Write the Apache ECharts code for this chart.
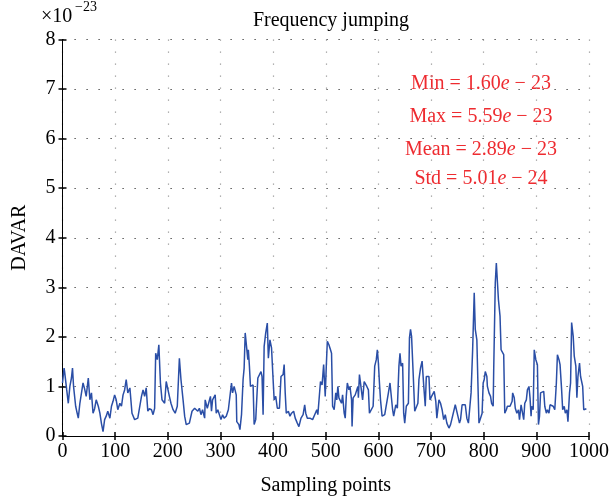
<!DOCTYPE html>
<html>
<head>
<meta charset="utf-8">
<script src="https://cdn.jsdelivr.net/npm/echarts@6/dist/echarts.min.js"></script>
<style>
html,body{margin:0;padding:0;background:#fff;}
#chart{width:612px;height:502px;}
</style>
</head>
<body>
<div id="chart"></div>
<script>
// Sampling point index (x) and DAVAR value in units of 1e-23 (y)
const samplePoints = [0,3,4,8,11,14,17,19,21,25,27,30,33,36,39,42,45,49,52,55,58,61,64,68,71,74,77,80,83,86,90,93,96,99,102,105,109,112,115,118,121,124,128,132,137,143,150,153,156,159,162,165,169,172,175,177,180,183,186,189,194,197,200,203,206,210,214,218,222,225,229,232,235,241,246,251,254,257,260,263,266,270,271,275,277,281,283,285,288,290,292,295,298,301,304,307,311,315,318,321,323,326,330,331,335,337,340,343,345,347,350,352,353,355,357,360,362,364,367,371,374,377,379,381,383,386,389,391,394,397,400,402,405,408,412,415,419,421,423,425,429,432,435,439,442,446,449,453,457,460,462,465,470,475,479,483,485,488,490,493,496,498,499,501,503,506,509,511,513,516,519,521,523,525,527,530,532,535,537,539,541,544,546,549,550,552,556,558,561,562,564,567,570,573,576,578,581,583,586,590,593,596,598,600,602,604,607,612,615,619,622,624,627,629,633,636,639,641,643,646,648,650,653,657,659,661,663,666,669,672,675,677,680,683,686,689,691,694,696,698,701,704,706,709,711,715,718,721,724,727,730,734,737,740,743,746,749,751,754,756,759,762,765,768,771,773,776,779,782,784,787,789,791,794,797,799,801,803,806,807,810,813,815,818,819,822,824,826,828,831,833,836,838,840,843,845,848,850,854,855,858,860,863,866,868,871,873,876,878,881,883,886,888,890,891,894,896,899,902,904,906,908,911,914,916,919,921,924,926,929,932,935,938,940,943,945,948,950,953,955,958,960,963,965,967,970,972,975,977,979,982,984,986,988,990,995];
const davarValues = [1.07,1.37,1.30,0.93,0.66,1.0,1.17,1.37,1.0,0.6,0.5,0.36,0.66,0.7,1.07,0.95,0.8,1.17,0.73,0.87,0.46,0.55,0.73,0.6,0.46,0.25,0.09,0.33,0.4,0.5,0.36,0.6,0.7,0.83,0.73,0.53,0.66,0.6,0.83,0.93,1.14,0.87,0.97,0.46,0.33,0.36,0.8,0.93,0.8,0.97,0.5,0.55,0.53,0.43,0.56,1.67,1.54,1.84,1.07,0.73,0.66,1.1,1.07,0.8,0.66,0.53,0.46,0.6,1.57,1.14,0.73,0.4,0.23,0.26,0.5,0.56,0.6,0.5,0.56,0.43,0.53,0.36,0.73,0.56,0.6,0.8,0.5,0.73,0.77,0.83,0.46,0.53,0.56,0.33,0.43,0.36,0.4,0.53,0.53,1.07,0.87,1.0,0.83,0.29,0.23,0.13,0.43,1.14,1.37,2.08,2.08,1.54,1.74,1.41,1.0,0.97,1.03,0.23,0.33,1.17,1.14,1.3,1.2,0.43,1.81,2.08,2.28,1.57,1.94,1.78,1.14,0.73,0.8,0.56,0.56,1.2,1.24,1.44,0.87,0.46,0.5,0.4,0.46,0.5,0.36,0.26,0.19,0.36,0.43,0.63,0.46,0.36,0.36,0.33,0.43,0.53,0.43,0.46,1.1,1.03,1.44,1.47,0.8,1.4,1.91,1.84,1.74,1.67,0.6,0.53,0.87,0.73,1.0,0.77,0.8,0.66,0.83,0.46,0.36,0.8,1.07,0.93,1.0,0.73,0.19,0.77,0.83,0.87,1.0,0.77,1.24,1.24,0.73,1.1,1.14,1.0,0.93,0.46,0.5,0.6,1.41,1.54,1.74,1.47,1.07,0.73,0.4,0.43,0.46,0.87,1.07,1.03,0.53,0.4,0.63,0.56,1.41,1.67,1.41,1.47,0.46,0.26,0.6,0.66,1.98,2.15,2.01,1.27,0.5,0.46,0.66,1.14,1.37,1.51,1.03,0.6,1.2,1.24,1.2,0.73,0.8,0.77,0.9,0.7,0.36,0.73,0.66,0.53,0.33,0.43,0.26,0.16,0.23,0.36,0.4,0.63,0.6,0.4,0.26,0.33,0.63,0.66,0.63,0.36,0.26,0.29,0.87,1.74,2.89,2.15,1.94,1.07,0.26,0.23,0.46,1.07,1.14,1.3,1.2,1.0,0.87,0.8,0.66,0.6,1.34,3.09,3.49,3.46,2.75,2.42,1.74,1.71,1.64,0.46,0.53,0.6,0.56,0.6,0.7,0.87,0.77,0.56,0.46,0.53,0.33,0.63,0.6,0.33,0.66,0.73,0.93,1.0,0.77,0.4,0.6,0.53,1.74,1.54,1.44,0.23,0.4,0.87,0.83,0.9,0.6,0.46,0.53,0.46,0.63,0.66,0.6,0.53,1.07,1.64,1.54,1.44,0.93,0.53,0.6,0.46,0.53,0.29,0.87,1.07,2.29,2.01,1.61,1.41,0.77,1.2,1.47,1.2,1.24,1.0,0.53,0.55];
const xTicks = [0,100,200,300,400,500,600,700,800,900,1000];
const yTicks = [0,1,2,3,4,5,6,7,8];
const statLines = [
  ['Min = 1.60', ' \u2212 23'],
  ['Max = 5.59', ' \u2212 23'],
  ['Mean = 2.89', ' \u2212 23'],
  ['Std = 5.01', ' \u2212 24']
];

const FONT = '"Liberation Serif", "DejaVu Serif", serif';
const RED = '#ee2b30';
const chart = echarts.init(document.getElementById('chart'), null, {renderer: 'canvas'});
const data = samplePoints.map((x, i) => [x, davarValues[i]]);

const axisLine = {show: true, lineStyle: {color: '#000', width: 1}};
const tick = {show: true, inside: true, length: 4, lineStyle: {color: '#000', width: 1.5}};
const labelStyle = {fontFamily: FONT, fontSize: 20, color: '#000'};

const statY = [84, 117, 150, 179];
const graphics = [
  {type: 'text', left: 41, top: 7, style: {text: '\u00d710', font: '20px ' + FONT, fill: '#000'}},
  {type: 'text', left: 75, top: 0, style: {text: '\u221223', font: '14px ' + FONT, fill: '#000'}}
];
statLines.forEach((s, k) => {
  graphics.push({
    type: 'text', x: 481, y: statY[k],
    style: {
      text: '{n|' + s[0] + '}{i|e}{n|' + s[1] + '}',
      align: 'center', verticalAlign: 'middle',
      fill: RED,
      rich: {
        n: {fontFamily: FONT, fontSize: 20, fill: RED, color: RED},
        i: {fontFamily: FONT, fontSize: 20, fontStyle: 'italic', fill: RED, color: RED}
      }
    }
  });
});

chart.setOption({
  backgroundColor: '#fff',
  animation: false,
  title: {
    text: 'Frequency jumping', left: 326, top: 6, textAlign: 'center',
    textStyle: {fontFamily: FONT, fontSize: 20, fontWeight: 'normal', color: '#000'}
  },
  grid: {left: 62.5, right: 21.5, top: 39.5, bottom: 66, containLabel: false},
  xAxis: [
    {
      type: 'value', min: 0, max: 1000, interval: 100,
      name: 'Sampling points', nameLocation: 'middle', nameGap: 40,
      nameTextStyle: labelStyle,
      axisLine, axisTick: tick,
      splitLine: {show: true, lineStyle: {color: '#999', width: 1.2, type: [1.2, 10.8]}},
      axisLabel: {...labelStyle, margin: 6, showMaxLabel: true,
        formatter: v => xTicks.includes(v) ? String(v) : ''}
    },
    {
      type: 'value', position: 'top', min: 0, max: 1000, interval: 100,
      axisLine, axisTick: tick, splitLine: {show: false}, axisLabel: {show: false}
    }
  ],
  yAxis: [
    {
      type: 'value', min: 0, max: 8, interval: 1,
      name: 'DAVAR', nameLocation: 'middle', nameGap: 33,
      nameTextStyle: labelStyle,
      axisLine, axisTick: tick,
      splitLine: {show: true, lineStyle: {color: '#333', width: 1.2, type: [1.2, 10.8]}},
      axisLabel: {...labelStyle, margin: 7,
        formatter: v => yTicks.includes(v) ? String(v) : ''}
    },
    {
      type: 'value', position: 'right', min: 0, max: 8, interval: 1,
      axisLine, axisTick: tick, splitLine: {show: false}, axisLabel: {show: false}
    }
  ],
  series: [{
    type: 'line', data, xAxisIndex: 0, yAxisIndex: 0,
    showSymbol: false, symbol: 'none',
    lineStyle: {color: '#2a4ea6', width: 1.5},
    z: 3
  }],
  graphic: graphics
});
</script>
</body>
</html>
